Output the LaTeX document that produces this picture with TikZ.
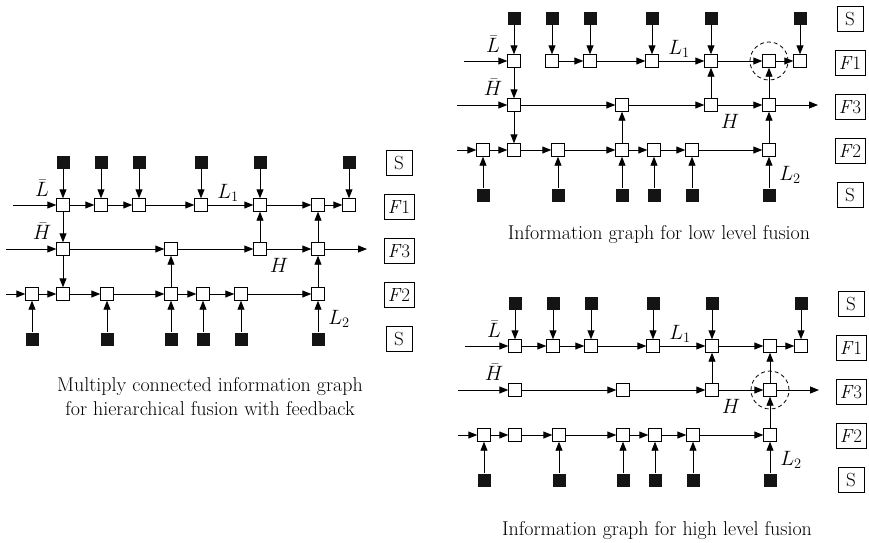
\documentclass[tikz,border=0pt]{standalone}
\usetikzlibrary{arrows.meta}

% Nodes, tags and connectors shared by all three information graphs.
% Units are points; rows: sources 162, F1 205, F3 249, F2 294, sources 339.
\newcommand\graphcore{%
  \foreach \n/\x in {11/63,12/101,13/139,14/201,15/260,16/318,17/349}
    \node[wbox] (\n) at (\x,205) {};
  \foreach \n/\x in {31/63,32/171,33/260,34/318}
    \node[wbox] (\n) at (\x,249) {};
  \foreach \n/\x in {21/32,22/63,23/107,24/171,25/203,26/241,27/318}
    \node[wbox] (\n) at (\x,294) {};
  \foreach \n/\x in {11/63,12/101,13/139,14/201,15/260,17/349}
    \node[sbox] (t\n) at (\x,162) {};
  \foreach \n/\x in {21/32,23/107,24/171,25/203,26/241,27/318}
    \node[sbox] (b\n) at (\x,339) {};
  \coordinate (inF1) at (13,205);
  \coordinate (inF3) at (6,249);
  \coordinate (inF2) at (6,294);
  \coordinate (outF3) at (367,249);
  % row tags
  \node[tagbox] (tagS1) at (399,163) {S};
  \node[tagbox] (tagF1) at (399,207) {\textit{F}1};
  \node[tagbox] (tagF3) at (399,251) {\textit{F}3};
  \node[tagbox] (tagF2) at (399,295) {\textit{F}2};
  \node[tagbox] (tagS2) at (399,339) {S};
  % signal labels
  \node[lbl] (lLbar) at (42,188) {$\bar{L}$};
  \node[lbl] (lHbar) at (42,231) {$\bar{H}$};
  \node[lbl] (lL1) at (228,193) {$L_1$};
  \node[lbl] (lH) at (279,265) {$H$};
  \node[lbl] (lL2) at (339,319) {$L_2$};
  % sources
  \foreach \n in {11,12,13,14,15,17} \draw[flow] (t\n) -- (\n);
  \foreach \n in {21,23,24,25,26,27} \draw[flow] (b\n) -- (\n);
  % F1 row
  \draw[flow] (inF1) -- (11);
  \foreach \a/\b in {12/13,13/14,14/15,15/16,16/17} \draw[flow] (\a) -- (\b);
  % F3 row
  \draw[flow] (inF3) -- (31);
  \foreach \a/\b in {31/32,32/33,33/34} \draw[flow] (\a) -- (\b);
  \draw[flow] (34) -- (outF3);
  % F2 row
  \draw[flow] (inF2) -- (21);
  \foreach \a/\b in {21/22,22/23,23/24,24/25,25/26,26/27} \draw[flow] (\a) -- (\b);
  % upward links shared by all graphs
  \draw[flow] (33) -- (15);
  \draw[flow] (34) -- (16);
  \draw[flow] (27) -- (34);
}

\begin{document}
\begin{tikzpicture}[x=1pt,y=-1pt,
  wbox/.style={draw, fill=white, line width=0.9pt, minimum size=12.5pt, inner sep=0pt},
  sbox/.style={fill=black!92, minimum size=13pt, inner sep=0pt},
  tagbox/.style={draw, line width=0.6pt, minimum height=25pt, minimum width=26pt,
    inner sep=4pt, font=\fontsize{19}{20}\selectfont},
  flow/.style={line width=0.9pt, -{Triangle[length=9pt,width=7pt]}},
  lbl/.style={font=\fontsize{20}{22}\selectfont, inner sep=0pt},
  caption/.style={font=\fontsize{20}{24}\selectfont, align=center, inner sep=0pt},
  focus/.style={draw, circle, dash pattern=on 4pt off 3pt, line width=0.8pt,
    minimum size=38pt, inner sep=0pt}
]
\useasboundingbox (0,0) rectangle (869,542);

% hierarchical fusion with feedback
\begin{scope}[name prefix=a-]
  \graphcore
  \draw[flow] (11) -- (12);
  \draw[flow] (11) -- (31);
  \draw[flow] (31) -- (22);
  \draw[flow] (24) -- (32);
  \node[caption] (cap) at (210,397)
    {Multiply connected information graph\\for hierarchical fusion with feedback};
\end{scope}

% low level fusion
\begin{scope}[shift={(451,-144)}, name prefix=b-]
  \graphcore
  \draw[flow] (11) -- (31);
  \draw[flow] (31) -- (22);
  \draw[flow] (24) -- (32);
  \node[focus] (ring) at (16) {};
  \node[caption, anchor=base] (cap) at (208,383) {Information graph for low level fusion};
\end{scope}

% high level fusion
\begin{scope}[shift={(452,141)}, name prefix=c-]
  \graphcore
  \draw[flow] (11) -- (12);
  \node[focus] (ring) at (34) {};
  \node[caption, anchor=base] (cap) at (205,394) {Information graph for high level fusion};
\end{scope}
\end{tikzpicture}
\end{document}
